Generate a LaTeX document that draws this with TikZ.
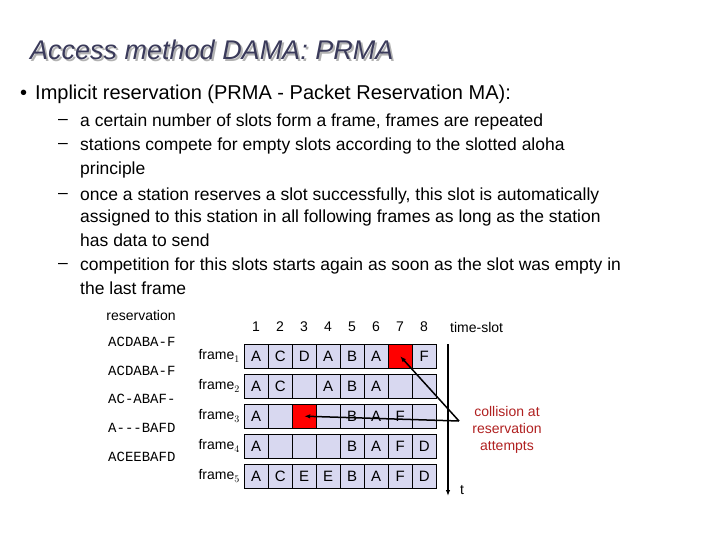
\documentclass[tikz,border=0pt]{standalone}
\usepackage{fontspec}
\usetikzlibrary{arrows.meta}
\setmainfont{Liberation Sans}
\setmonofont{Liberation Mono}
\definecolor{cellfill}{HTML}{D8D8F0}
\definecolor{coll}{HTML}{B02020}
\definecolor{titlec}{HTML}{3A3A5A}
\begin{document}
\begin{tikzpicture}[x=1pt,y=-1pt,
 cell/.style={draw=black,fill=cellfill,minimum width=24pt,minimum height=24pt,inner sep=0pt,font=\fontsize{15}{15}\selectfont,anchor=north west},
 redcell/.style={cell,fill=red},
 txt/.style={anchor=west,inner sep=0pt,font=\fontsize{17.5}{17.5}\selectfont},
 mono/.style={anchor=west,inner sep=0pt,font=\ttfamily\fontsize{14}{14}\selectfont},
 lab/.style={inner sep=0pt,font=\fontsize{14}{14}\selectfont},
 arr/.style={-{Latex[length=6pt]},line width=1.5pt}]
\useasboundingbox (0,0) rectangle (720,540);
\node[anchor=west,inner sep=0pt,font=\itshape\fontsize{27}{27}\selectfont,text=gray!60] at (32,52) {Access method DAMA: PRMA};
\node[anchor=west,inner sep=0pt,font=\itshape\fontsize{27}{27}\selectfont,text=titlec] (title) at (30,50) {Access method DAMA: PRMA};
\node[anchor=west,inner sep=0pt,font=\fontsize{20}{20}\selectfont] (b1) at (20,94) {•\hspace{8pt}Implicit reservation (PRMA - Packet Reservation MA):};
\foreach \y/\d/\t in {122/1/a certain number of slots form a frame{,} frames are repeated,
 146/1/stations compete for empty slots according to the slotted aloha,
 170/0/principle,
 196/1/once a station reserves a slot successfully{,} this slot is automatically,
 218/0/assigned to this station in all following frames as long as the station,
 240/0/has data to send,
 266/1/competition for this slots starts again as soon as the slot was empty in,
 288/0/the last frame}{
 \ifnum\d=1 \node[txt] at (58,\y) {–};\fi
 \node[txt] at (80,\y) {\t};
}
\node[lab] (res) at (141,315) {reservation};
\foreach \y/\t [count=\i] in {342/ACDABA-F,371/ACDABA-F,399/AC-ABAF-,428/A---BAFD,457/ACEEBAFD}
 \node[mono] (r\i) at (108,\y) {\t};
\foreach \n [count=\i] in {1,...,8} \node[lab] (n\i) at (256+24*\i-24,327) {\n};
\node[lab,anchor=west] (ts) at (450,327) {time-slot};
\foreach \r/\lst in {1/{A,C,D,A,B,A,*,F},2/{A,C,-,A,B,A,-,-},3/{A,-,*,-,B,A,F,-},4/{A,-,-,-,B,A,F,D},5/{A,C,E,E,B,A,F,D}}{
 \pgfmathsetmacro\yy{344+30*(\r-1)}
 \node[lab,anchor=east] (f\r) at (240,\yy+12) {frame$_{\r}$};
 \foreach \v [count=\c] in \lst{
  \pgfmathsetmacro\xx{244+24*(\c-1)}
  \if*\v
   \node[redcell] (c\r\c) at (\xx,\yy) {};
  \else\if-\v
   \node[cell] (c\r\c) at (\xx,\yy) {};
  \else
   \node[cell] (c\r\c) at (\xx,\yy) {\v};
  \fi\fi
 }
}
\coordinate (t0) at (448,344); \coordinate (t1) at (448,496);
\draw[arr] (t0) -- (t1);
\node[lab,anchor=west] (tt) at (460,490) {t};
\node[lab,align=center,text=coll,font=\fontsize{14}{17}\selectfont] (col) at (507,430) {collision at\\reservation\\attempts};
\coordinate (ap) at (459,421);
\draw[arr] (ap) -- (c17.center);
\draw[arr] (ap) -- (c33.center);
\end{tikzpicture}
\end{document}
